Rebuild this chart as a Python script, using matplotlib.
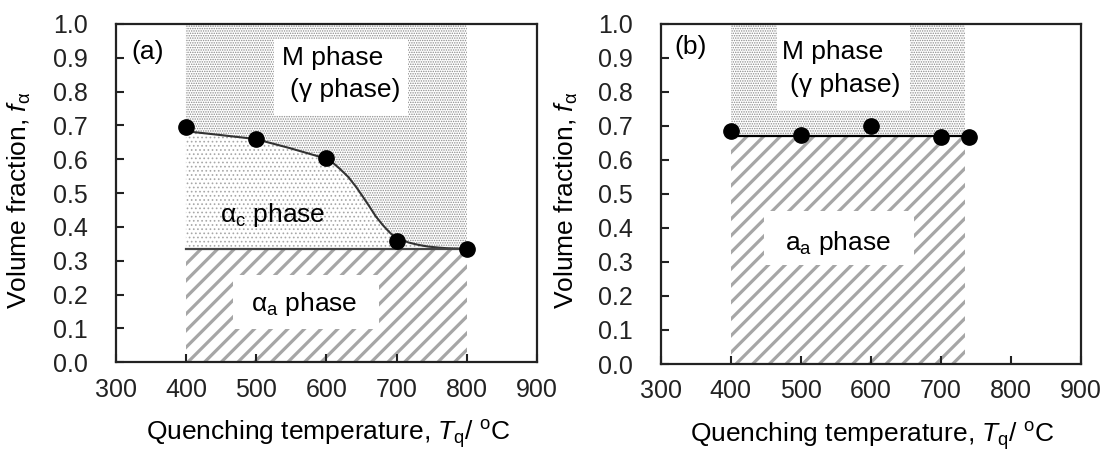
import numpy as np
import matplotlib.pyplot as plt
from matplotlib.patches import Rectangle

plt.rcParams['font.family'] = ['Liberation Sans', 'DejaVu Sans']
plt.rcParams['mathtext.fontset'] = 'custom'
plt.rcParams['mathtext.rm'] = 'Liberation Sans'
plt.rcParams['mathtext.it'] = 'Liberation Sans:italic'
plt.rcParams['mathtext.sf'] = 'Liberation Sans'

temp_a = [400, 500, 600, 700, 800]
frac_a = [0.695, 0.660, 0.603, 0.358, 0.336]
curve_t = [400, 448, 499, 548, 598, 609, 619, 631, 642, 651, 661, 670, 680, 689,
           696, 708, 717, 731, 745, 760, 773, 786, 800]
curve_f = [0.683, 0.672, 0.660, 0.633, 0.603, 0.590, 0.572, 0.548, 0.519, 0.492,
           0.461, 0.432, 0.406, 0.386, 0.372, 0.361, 0.354, 0.347, 0.342, 0.339,
           0.337, 0.336, 0.335]
aa_frac_a = 0.335
t_range_a = [400, 800]

# (b) measured points
temp_b = [400, 500, 600, 700, 740]
frac_b = [0.686, 0.674, 0.700, 0.669, 0.669]
aa_frac_b = 0.671
t_range_b = [400, 735]

xticks = [300, 400, 500, 600, 700, 800, 900]
yticks = np.round(np.arange(0, 1.01, 0.1), 1)

fig = plt.figure(figsize=(11.1, 4.55), dpi=100)
ax1 = fig.add_axes([0.1042, 0.2037, 0.3798, 0.7436])
ax2 = fig.add_axes([0.5952, 0.2000, 0.3784, 0.7473])

dense = dict(facecolor='white', edgecolor='#8a8a8a', linewidth=0, zorder=1)
sparse = dict(facecolor='white', edgecolor='#a8a8a8', linewidth=0, zorder=1)
stripes = dict(facecolor='white', edgecolor='#a6a6a6', linewidth=0, zorder=1)

with plt.rc_context({'hatch.linewidth': 0.7}):
    ax1.fill_between(curve_t, curve_f, 1.0, hatch='.......', **dense)
    ax1.fill_between(curve_t, aa_frac_a, curve_f, hatch='....', **sparse)
    ax2.fill_between(t_range_b, aa_frac_b, 1.0, hatch='.......', **dense)
with plt.rc_context({'hatch.linewidth': 2.3}):
    ax1.fill_between(t_range_a, 0, aa_frac_a, hatch='//', **stripes)
    ax2.fill_between(t_range_b, 0, aa_frac_b, hatch='//', **stripes)

# white label boxes
ax1.add_patch(Rectangle((525, 0.73), 191, 0.227, fc='white', ec='none', zorder=2))
ax1.add_patch(Rectangle((467, 0.099), 208, 0.158, fc='white', ec='none', zorder=2))
ax2.add_patch(Rectangle((466, 0.746), 190, 0.254, fc='white', ec='none', zorder=2))
ax2.add_patch(Rectangle((448, 0.292), 214, 0.157, fc='white', ec='none', zorder=2))

ax1.plot(curve_t, curve_f, color='#333333', lw=1.5, zorder=3)
ax1.plot(t_range_a, [aa_frac_a, aa_frac_a], color='#444444', lw=1.6, zorder=3)
ax1.plot(temp_a, frac_a, 'o', color='black', ms=11, zorder=4, clip_on=False)

ax2.plot(t_range_b, [aa_frac_b, aa_frac_b], color='black', lw=1.6, zorder=3)
ax2.plot(temp_b, frac_b, 'o', color='black', ms=11, zorder=4, clip_on=False)

fs = 19
ax1.text(609, 0.898, 'M phase', fontsize=fs, ha='center', va='center', zorder=5)
ax1.text(627, 0.805, '(γ phase)', fontsize=fs, ha='center', va='center', zorder=5)
ax1.text(523, 0.434, r'$\mathrm{\alpha_c}$ phase', fontsize=fs, ha='center', va='center', zorder=5)
ax1.text(569, 0.173, r'$\mathrm{\alpha_a}$ phase', fontsize=fs, ha='center', va='center', zorder=5)
ax1.text(346, 0.918, '(a)', fontsize=fs, ha='center', va='center', zorder=5)

ax2.text(545, 0.919, 'M phase', fontsize=fs, ha='center', va='center', zorder=5)
ax2.text(563, 0.82, '(γ phase)', fontsize=fs, ha='center', va='center', zorder=5)
ax2.text(553, 0.357, r'a$_\mathrm{a}$ phase', fontsize=fs, ha='center', va='center', zorder=5)
ax2.text(342, 0.933, '(b)', fontsize=fs, ha='center', va='center', zorder=5)

for ax in (ax1, ax2):
    ax.set_xlim(300, 900)
    ax.set_ylim(0, 1.0)
    ax.set_xticks(xticks)
    ax.set_yticks(yticks)
    ax.set_yticklabels(['%.1f' % v for v in yticks])
    ax.tick_params(axis='both', direction='in', length=6, width=1.5, labelsize=18, colors='#222222')
    ax.tick_params(axis='y', pad=20)
    ax.tick_params(axis='x', pad=11)
    for s in ax.spines.values():
        s.set_linewidth(1.6)
        s.set_color('#222222')
        s.set_zorder(6)
    ax.set_xlabel(r'Quenching temperature, $T_\mathrm{q}$/ $^\mathrm{o}$C', fontsize=fs)
    ax.set_ylabel(r'Volume fraction, $f_\mathrm{\alpha}$', fontsize=fs)

ax1.xaxis.set_label_coords(0.505, -0.165)
ax2.xaxis.set_label_coords(0.503, -0.165)
ax1.yaxis.set_label_coords(-0.196, 0.48)
ax2.yaxis.set_label_coords(-0.192, 0.48)

fig.savefig('out.png', dpi=100)
